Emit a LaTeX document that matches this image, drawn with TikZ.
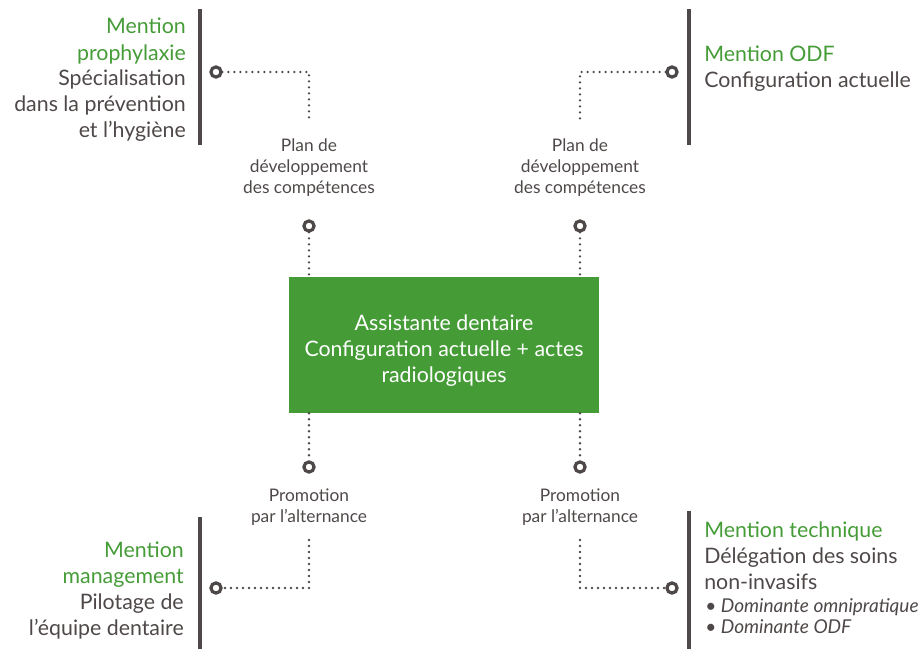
\documentclass[tikz,border=0pt]{standalone}
\usepackage{fontspec}
\setmainfont{Lato}
\usetikzlibrary{positioning,calc}
\definecolor{mentColor}{HTML}{459C37}
\definecolor{txtColor}{HTML}{4F4848}
\tikzset{
	knot/.style={circle, draw=txtColor, line width=2.4pt, minimum size=7.6pt, inner sep=0pt, outer sep=1pt, fill=white},
	dots/.style={draw=txtColor, line width=2pt, line cap=round, dash pattern=on 0pt off 4.5pt},
	bar/.style={draw=txtColor, line width=3pt},
	steplab/.style={font=\fontsize{13}{15.75}\selectfont, text=txtColor, align=center, inner sep=0pt},
	mention/.style={font=\fontsize{16}{19.5}\selectfont, text=txtColor, inner sep=0pt},
	core/.style={fill=mentColor, text=white, align=center, inner sep=0pt,
		minimum width=232pt, minimum height=102pt, font=\fontsize{16}{19.5}\selectfont}
}
\newcommand{\mtitle}[1]{\textcolor{mentColor}{#1}}

\begin{document}
\begin{tikzpicture}[x=0.75pt, y=-0.75pt]
	\useasboundingbox (0,0) rectangle (921,649);

	% centre
	\node[core] (core) at (444, 345) {\rule{0pt}{20pt}Assistante dentaire\\ Configuration actuelle + actes\\ radiologiques};

	% top left
	\draw[bar] (200, 9) -- (200, 145);
	\node[mention, align=right, anchor=base east] (tlText) at (186, 138)
		{\mtitle{Mention}\\ \mtitle{prophylaxie}\\ Spécialisation\\ dans la prévention\\ et l’hygiène};
	\node[knot] (tlKnot) at (216, 72) {};
	\coordinate (tlEnd) at (309, 120);
	\node[steplab, anchor=base] (tlLab) at (309, 194) {Plan de\\ développement\\ des compétences};
	\node[knot] (tlMid) at (309, 226) {};
	\draw[dots] (tlKnot) -| (tlEnd);
	\draw[dots] (tlMid) -- (tlMid |- core.north);

	% top right
	\draw[bar] (689, 9) -- (689, 145);
	\node[mention, align=left, anchor=base west] (trText) at (704, 88)
		{\mtitle{Mention ODF}\\ Configuration actuelle};
	\node[knot] (trKnot) at (672, 72) {};
	\coordinate (trEnd) at (580, 120);
	\node[steplab, anchor=base] (trLab) at (580, 194) {Plan de\\ développement\\ des compétences};
	\node[knot] (trMid) at (580, 226) {};
	\draw[dots] (trKnot) -| (trEnd);
	\draw[dots] (trMid) -- (trMid |- core.north);

	% bottom left
	\draw[bar] (200, 517) -- (200, 649);
	\node[mention, align=right, anchor=base east] (blText) at (184, 635)
		{\mtitle{Mention}\\ \mtitle{management}\\ Pilotage de\\ l’équipe dentaire};
	\node[knot] (blMid) at (309, 467) {};
	\node[steplab, anchor=base] (blLab) at (309, 522) {Promotion\\ par l’alternance};
	\coordinate (blStart) at (309, 540);
	\node[knot] (blKnot) at (216, 588) {};
	\draw[dots] (core.south -| blMid) -- (blMid);
	\draw[dots] (blStart) |- (blKnot);

	% bottom right
	\draw[bar] (689, 511) -- (689, 649);
	\node[mention, align=left, anchor=base west] (brText) at (704, 589)
		{\mtitle{Mention technique}\\ Délégation des soins\\ non-invasifs};
	\node[mention, align=left, anchor=base west, font=\fontsize{14.3}{15.75}\selectfont\itshape]
		(brList) at (705, 633) {•~Dominante omnipratique\\ •~Dominante ODF};
	\node[knot] (brMid) at (580, 467) {};
	\node[steplab, anchor=base] (brLab) at (580, 522) {Promotion\\ par l’alternance};
	\coordinate (brStart) at (580, 540);
	\node[knot] (brKnot) at (672, 588) {};
	\draw[dots] (core.south -| brMid) -- (brMid);
	\draw[dots] (brStart) |- (brKnot);
\end{tikzpicture}
\end{document}
